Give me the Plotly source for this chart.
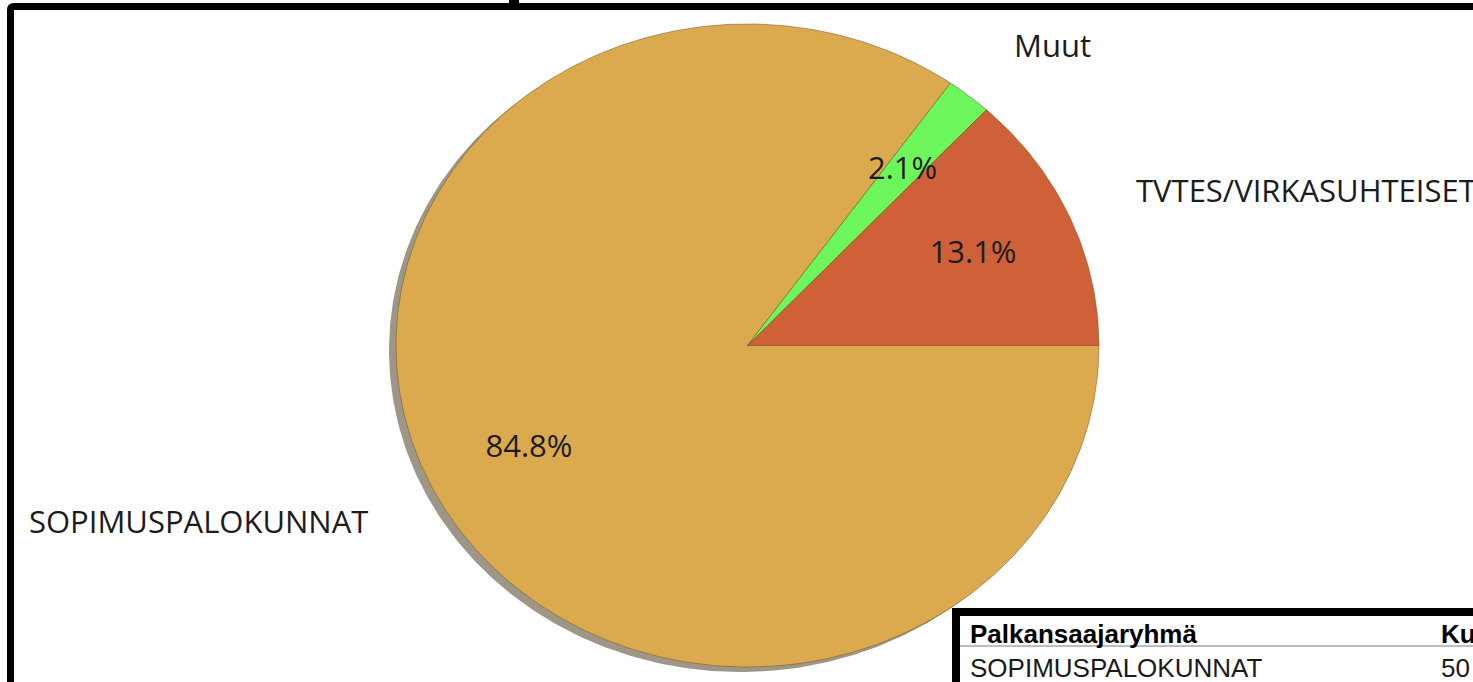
import numpy as np
import plotly.graph_objects as go

# ---- data ----
categories = ["SOPIMUSPALOKUNNAT", "Muut", "TVTES/VIRKASUHTEISET"]
shares = [84.8, 2.1, 13.1]
slice_colors = ["#DBAA4E", "#6DF65B", "#CF6038"]
table_header = ["Palkansaajaryhmä", "Ku"]
table_row = ["SOPIMUSPALOKUNNAT", "50"]

# ---- geometry / style (pixel space) ----
W, H = 1473, 682
CX, CY, RX, RY = 747.5, 345.5, 351.5, 321.5
SHADOW_DX, SHADOW_DY = -7, 5
LABEL_FRAC = 0.70
outer_label_pos = {
    "SOPIMUSPALOKUNNAT": (27, 521),
    "Muut": (1012, 45),
    "TVTES/VIRKASUHTEISET": (1134, 190),
}
LABEL_SIZE = 31

fig = go.Figure()

# shadow
t = np.linspace(0, 2 * np.pi, 400)
fig.add_trace(go.Scatter(
    x=CX + SHADOW_DX + RX * np.cos(t), y=CY + SHADOW_DY + RY * np.sin(t),
    mode="lines", fill="toself", fillcolor="#9E9788",
    line=dict(width=0, color="#9E9788"), hoverinfo="skip", showlegend=False))

total = sum(shares)
start = 0.0
mids = []
for cat, val, col in zip(categories, shares, slice_colors):
    sweep = 2 * np.pi * val / total
    a = np.linspace(start, start + sweep, max(8, int(400 * val / total)))
    xs = np.concatenate([[CX], CX + RX * np.cos(a), [CX]])
    ys = np.concatenate([[CY], CY + RY * np.sin(a), [CY]])
    fig.add_trace(go.Scatter(
        x=xs, y=ys, mode="lines", fill="toself", fillcolor=col,
        line=dict(width=1, color="rgba(120,90,40,0.55)"),
        name=cat, hoverinfo="name", showlegend=False))
    mids.append(start + sweep / 2)
    start += sweep

mids = np.array(mids)
fig.add_trace(go.Scatter(
    x=CX + LABEL_FRAC * RX * np.cos(mids), y=CY + LABEL_FRAC * RY * np.sin(mids),
    mode="text", text=[f"{v:.1f}%" for v in shares],
    textfont=dict(family="Open Sans", size=LABEL_SIZE, color="#1c1c1c"),
    hoverinfo="skip", showlegend=False))

annotations = []
for cat in categories:
    x, y = outer_label_pos[cat]
    annotations.append(dict(x=x, y=y, xref="x", yref="y", text=cat, showarrow=False,
                            xanchor="left", yanchor="middle",
                            font=dict(family="Open Sans", size=LABEL_SIZE, color="#1c1c1c")))

# table (partially visible)
annotations += [
    dict(x=968, y=634, xref="x", yref="y", text=f"<b>{table_header[0]}</b>", showarrow=False,
         xanchor="left", yanchor="middle", font=dict(family="Liberation Sans", size=26, color="#000")),
    dict(x=1439, y=634, xref="x", yref="y", text=f"<b>{table_header[1]}</b>", showarrow=False,
         xanchor="left", yanchor="middle", font=dict(family="Liberation Sans", size=26, color="#000")),
    dict(x=968, y=668, xref="x", yref="y", text=table_row[0], showarrow=False,
         xanchor="left", yanchor="middle", font=dict(family="Liberation Sans", size=26, color="#1a1a1a")),
    dict(x=1439, y=668, xref="x", yref="y", text=table_row[1], showarrow=False,
         xanchor="left", yanchor="middle", font=dict(family="Liberation Sans", size=26, color="#1a1a1a")),
]

shapes = [
    # outer frame
    dict(type="path", xref="x", yref="y",
         path="M 10.5 800 L 10.5 10 Q 10.5 6.5 14 6.5 L 1700 6.5",
         line=dict(color="black", width=7)),
    dict(type="rect", xref="x", yref="y", x0=509, x1=519, y0=0, y1=5,
         fillcolor="black", line=dict(width=0)),
    # table box
    dict(type="rect", xref="x", yref="y", x0=956, x1=1700, y0=612, y1=800,
         fillcolor="white", line=dict(color="black", width=8), layer="below"),
    dict(type="line", xref="x", yref="y", x0=960, x1=1700, y0=646, y1=646,
         line=dict(color="#BDBDBD", width=2)),
]

fig.update_layout(
    width=W, height=H, margin=dict(l=0, r=0, t=0, b=0),
    paper_bgcolor="white", plot_bgcolor="white",
    xaxis=dict(range=[0, W], visible=False, fixedrange=True),
    yaxis=dict(range=[H, 0], visible=False, fixedrange=True),
    annotations=annotations, shapes=shapes, showlegend=False,
)

fig.write_html("out.html", config={"displayModeBar": False},
               post_script="document.body.style.margin='0px';")
